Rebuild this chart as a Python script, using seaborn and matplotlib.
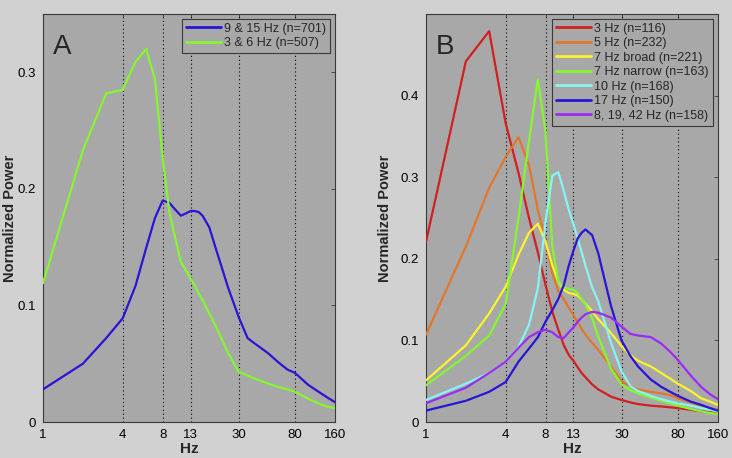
import matplotlib

matplotlib.use("Agg")
import matplotlib.pyplot as plt
import matplotlib.ticker as ticker
import pandas as pd
import seaborn as sns

# --- data (frequency in Hz, normalized power) ---
FREQS = [1, 2, 3, 4, 5, 6, 7, 8, 9, 10, 11, 12, 13, 14, 15, 16, 18, 20,
         25, 30, 35, 40, 50, 60, 70, 80, 100, 120, 140, 160]

# panel A
A_9_15 = [0.028, 0.050, 0.072, 0.089, 0.117, 0.149, 0.175, 0.190, 0.188, 0.182,
          0.177, 0.179, 0.181, 0.181, 0.180, 0.177, 0.167, 0.150, 0.115, 0.090,
          0.072, 0.067, 0.059, 0.051, 0.045, 0.042, 0.032, 0.026, 0.021, 0.017]
A_3_6 = [0.119, 0.233, 0.282, 0.285, 0.309, 0.320, 0.294, 0.227, 0.180, 0.157,
         0.137, 0.130, 0.123, 0.117, 0.110, 0.105, 0.093, 0.083, 0.059, 0.043,
         0.040, 0.037, 0.033, 0.030, 0.028, 0.026, 0.020, 0.016, 0.013, 0.012]

# panel B
B_3 = [0.221, 0.442, 0.479, 0.366, 0.305, 0.250, 0.208, 0.168, 0.135, 0.113,
       0.094, 0.082, 0.075, 0.067, 0.060, 0.055, 0.046, 0.040, 0.031, 0.027,
       0.024, 0.022, 0.020, 0.019, 0.018, 0.017, 0.015, 0.013, 0.012, 0.011]
B_5 = [0.107, 0.215, 0.287, 0.325, 0.349, 0.315, 0.260, 0.223, 0.182, 0.160,
       0.150, 0.140, 0.131, 0.122, 0.114, 0.107, 0.097, 0.088, 0.068, 0.050,
       0.044, 0.040, 0.037, 0.035, 0.033, 0.029, 0.024, 0.020, 0.017, 0.015]
B_7_broad = [0.051, 0.094, 0.133, 0.166, 0.205, 0.232, 0.243, 0.221, 0.192, 0.172,
             0.162, 0.158, 0.157, 0.155, 0.150, 0.145, 0.136, 0.126, 0.109, 0.093,
             0.082, 0.075, 0.068, 0.060, 0.053, 0.047, 0.038, 0.029, 0.025, 0.021]
B_7_narrow = [0.045, 0.081, 0.106, 0.145, 0.250, 0.345, 0.420, 0.355, 0.215, 0.172,
              0.165, 0.163, 0.162, 0.158, 0.150, 0.145, 0.127, 0.105, 0.065, 0.046,
              0.039, 0.035, 0.030, 0.026, 0.023, 0.020, 0.016, 0.013, 0.011, 0.010]
B_10 = [0.027, 0.047, 0.060, 0.074, 0.092, 0.119, 0.164, 0.245, 0.302, 0.306,
        0.283, 0.260, 0.242, 0.225, 0.208, 0.192, 0.165, 0.148, 0.097, 0.062,
        0.044, 0.038, 0.032, 0.028, 0.025, 0.023, 0.020, 0.017, 0.015, 0.013]
B_17 = [0.014, 0.026, 0.037, 0.049, 0.074, 0.090, 0.104, 0.123, 0.137, 0.151,
        0.168, 0.192, 0.210, 0.225, 0.232, 0.236, 0.229, 0.207, 0.142, 0.100,
        0.081, 0.068, 0.052, 0.043, 0.037, 0.032, 0.025, 0.021, 0.017, 0.014]
B_8_19_42 = [0.023, 0.042, 0.060, 0.074, 0.091, 0.104, 0.110, 0.113, 0.110, 0.104,
             0.103, 0.110, 0.116, 0.123, 0.128, 0.132, 0.135, 0.134, 0.128, 0.117,
             0.108, 0.106, 0.104, 0.096, 0.086, 0.076, 0.057, 0.043, 0.034, 0.028]

A_LABELS = ["9 & 15 Hz (n=701)", "3 & 6 Hz (n=507)"]
A_COLORS = ["#2a14d6", "#84f72e"]
B_LABELS = ["3 Hz (n=116)", "5 Hz (n=232)", "7 Hz broad (n=221)",
            "7 Hz narrow (n=163)", "10 Hz (n=168)", "17 Hz (n=150)",
            "8, 19, 42 Hz (n=158)"]
B_COLORS = ["#d21f1f", "#e2772a", "#fbf42a", "#84f72e", "#86f5f2",
            "#2a14d6", "#9a2cf5"]

X_TICKS = [1, 4, 8, 13, 30, 80, 160]
GRID_LINES = [4, 8, 13, 30, 80]


def long_frame(series, labels):
    rows = []
    for values, label in zip(series, labels):
        for f, v in zip(FREQS, values):
            rows.append({"Hz": f, "power": v, "group": label})
    return pd.DataFrame(rows)


sns.set_style("white", {
    "axes.facecolor": "#a8a8a8",
    "figure.facecolor": "#d1d1d1",
    "axes.edgecolor": "#3a3a3a",
})
plt.rcParams["font.family"] = ["Liberation Sans", "DejaVu Sans"]

fig = plt.figure(figsize=(7.32, 4.58), dpi=100)
ax_a = fig.add_axes([0.0587, 0.0786, 0.399, 0.8908])
ax_b = fig.add_axes([0.582, 0.0786, 0.3985, 0.8908])

# label x positions (axes fraction) place the right side of the rotated y label
panels = [
    (ax_a, [A_9_15, A_3_6], A_LABELS, A_COLORS, 0.35, [0, 0.1, 0.2, 0.3], "A", -0.088),
    (ax_b, [B_3, B_5, B_7_broad, B_7_narrow, B_10, B_17, B_8_19_42],
     B_LABELS, B_COLORS, 0.5, [0, 0.1, 0.2, 0.3, 0.4], "B", -0.116),
]

for ax, series, labels, colors, ymax, yticks, letter, ylab_x in panels:
    df = long_frame(series, labels)
    for x in GRID_LINES:
        ax.axvline(x, color="black", linestyle=(0, (1, 2.5)), linewidth=0.8, zorder=1)
    sns.lineplot(data=df, x="Hz", y="power", hue="group", hue_order=labels,
                 palette=dict(zip(labels, colors)), linewidth=1.6, ax=ax,
                 zorder=3)
    ax.set_xscale("log")
    ax.set_xlim(1, 160)
    ax.set_ylim(0, ymax)
    ax.xaxis.set_major_locator(ticker.FixedLocator(X_TICKS))
    ax.xaxis.set_major_formatter(ticker.FixedFormatter([str(t) for t in X_TICKS]))
    ax.xaxis.set_minor_locator(ticker.NullLocator())
    ax.set_yticks(yticks)
    ax.set_yticklabels(["0" if t == 0 else f"{t:g}" for t in yticks])
    ax.tick_params(direction="in", length=3, width=0.6, colors="#3a3a3a",
                   labelcolor="black", labelsize=9.5, top=True, right=True,
                   pad=5)
    for sp in ax.spines.values():
        sp.set_linewidth(0.8)
    ax.set_xlabel("Hz", fontsize=11, fontweight="bold", labelpad=1)
    ax.set_ylabel("Normalized Power", fontsize=10.5, fontweight="bold")
    ax.yaxis.set_label_coords(ylab_x, 0.5)
    ax.text(0.035, 0.92, letter, transform=ax.transAxes, fontsize=20,
            va="center", ha="left")
    leg = ax.legend(loc="upper right", fontsize=9, frameon=True, fancybox=False,
                    framealpha=1, facecolor="#a8a8a8", edgecolor="#3a3a3a",
                    handlelength=2.8, handletextpad=0.3, borderpad=0.3,
                    labelspacing=0.2, borderaxespad=0.4)
    leg.get_frame().set_linewidth(0.8)
    for line in leg.get_lines():
        line.set_linewidth(2.0)

fig.savefig("out.png", dpi=100)
